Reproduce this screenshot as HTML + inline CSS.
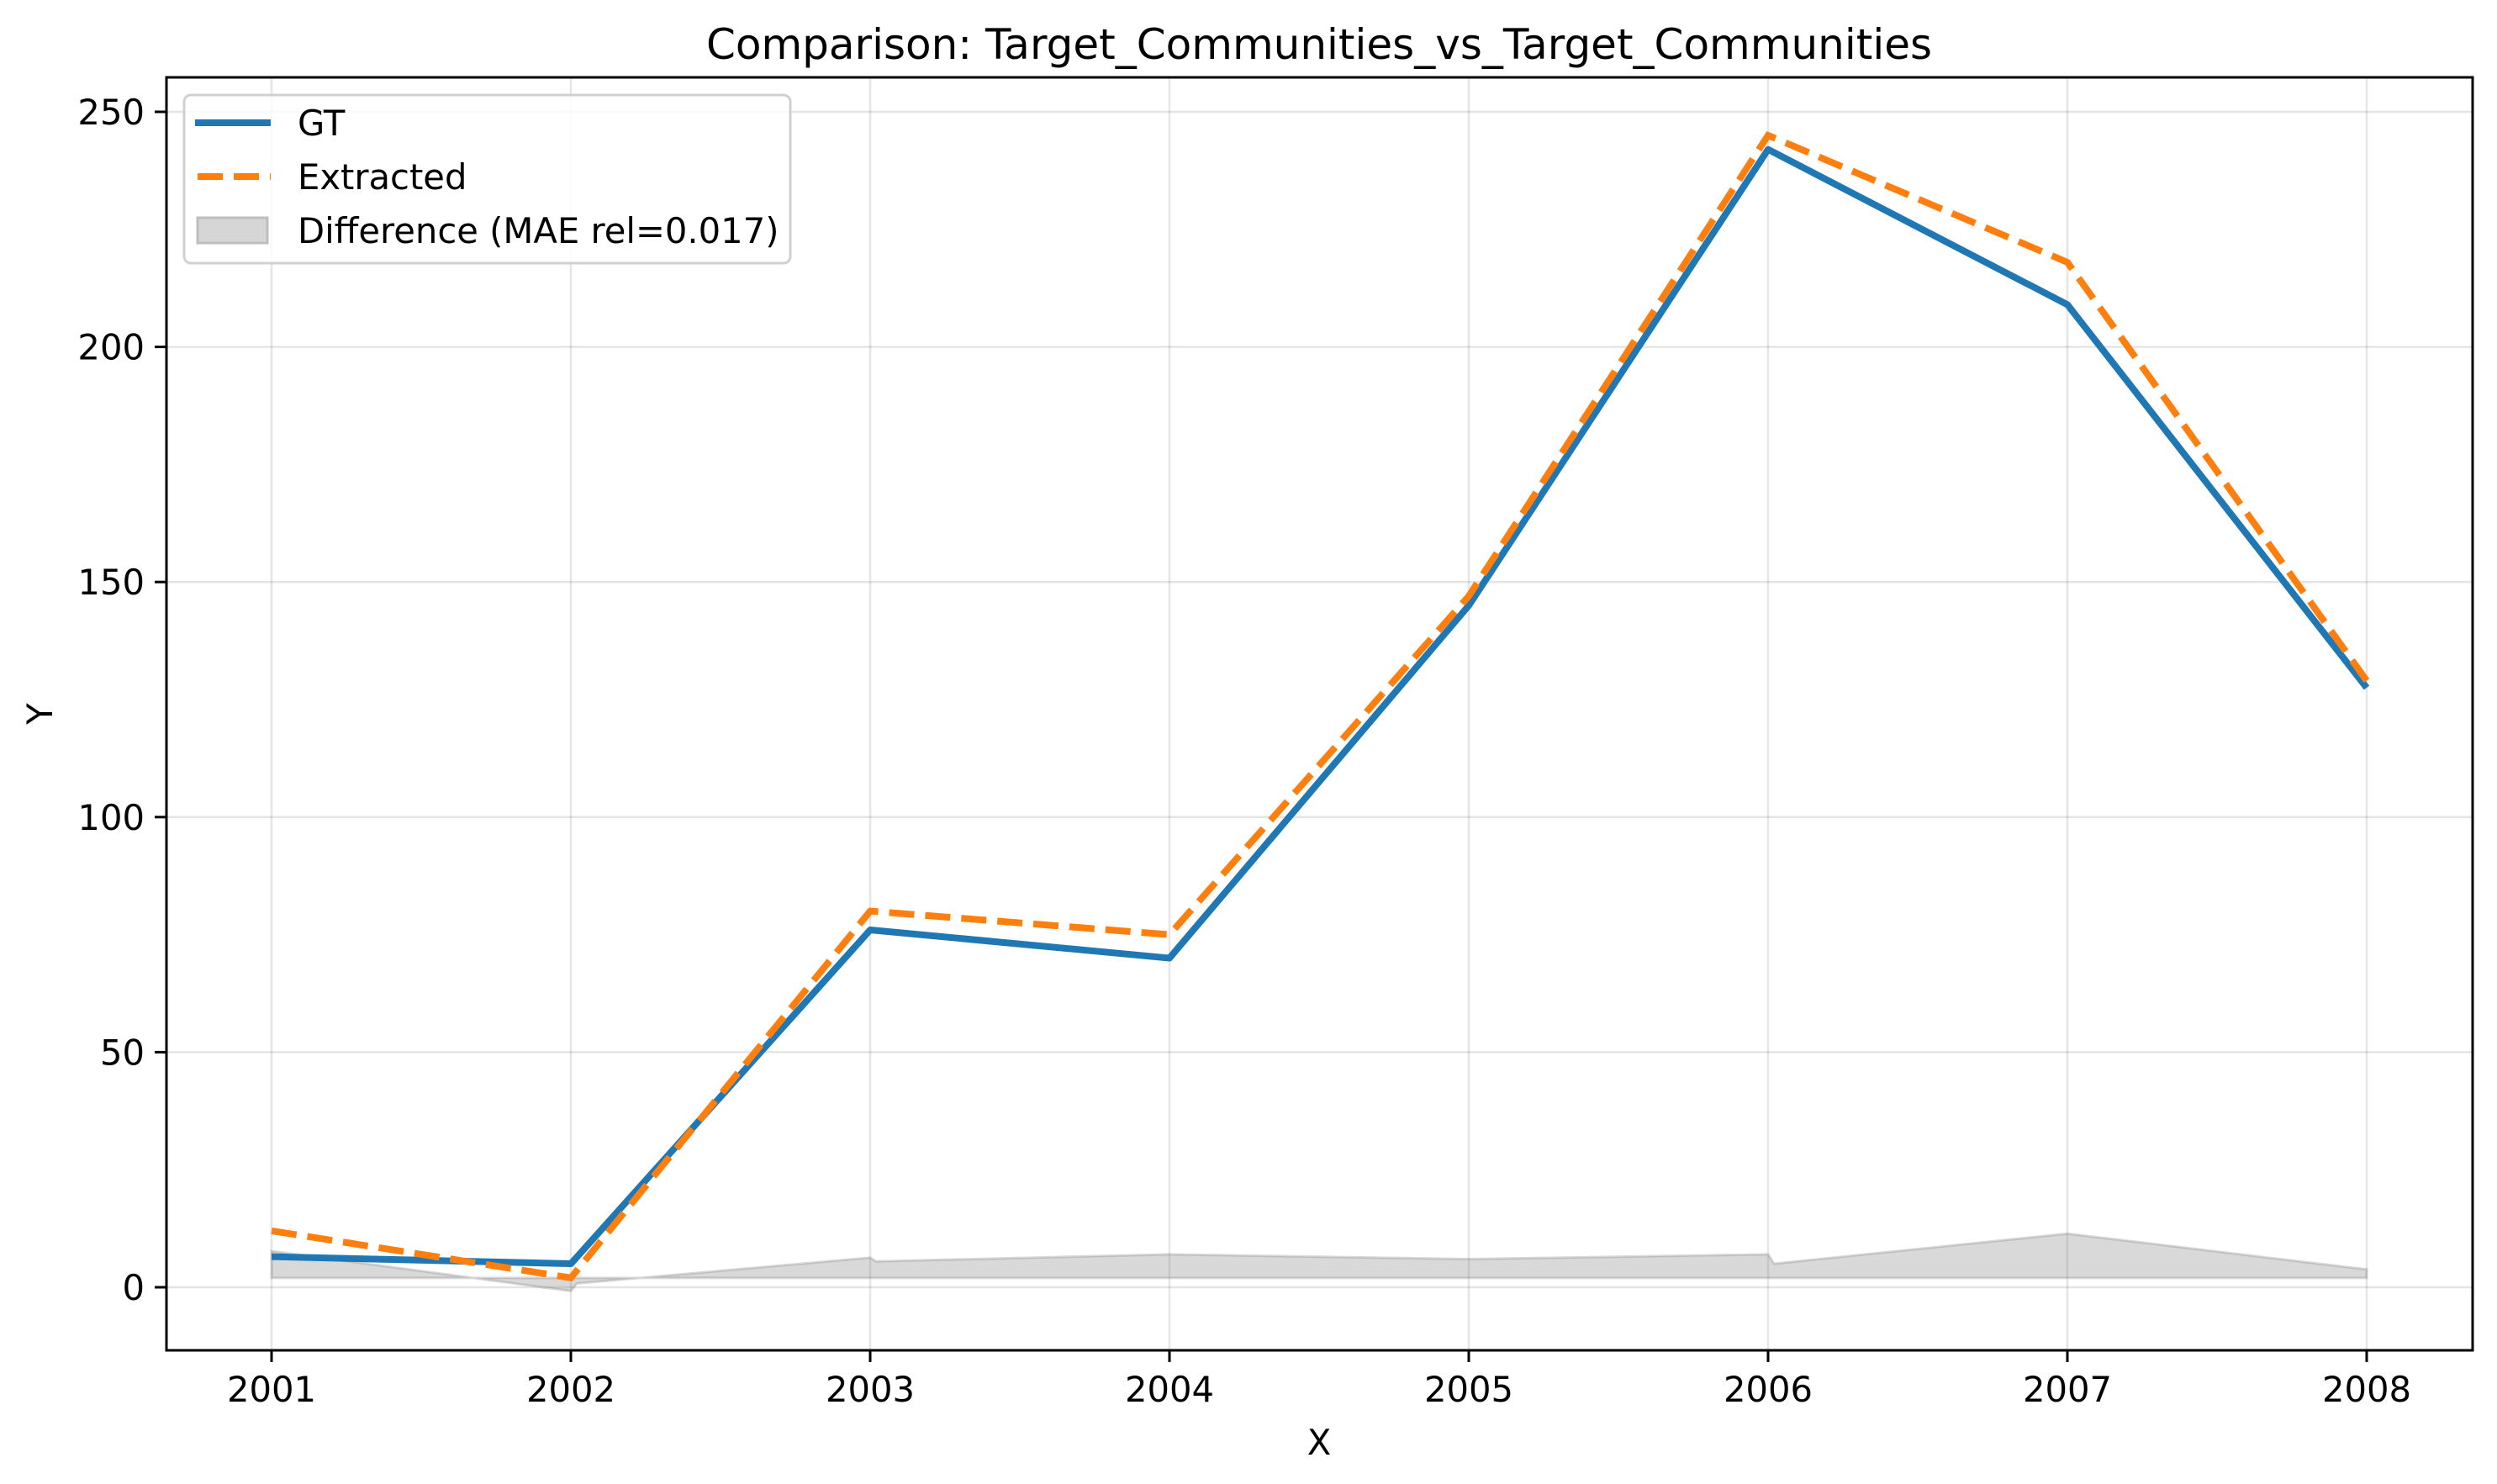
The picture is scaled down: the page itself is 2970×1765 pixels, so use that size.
<!DOCTYPE html>
<html><head><meta charset="utf-8"><style>
html,body{margin:0;padding:0;background:#fff}
svg{display:block;font-family:"DejaVu Sans","Liberation Sans",sans-serif}
</style></head><body>
<svg id="chart" width="2970" height="1765" viewBox="0 0 2970 1765" xmlns="http://www.w3.org/2000/svg">
<rect width="2970" height="1765" fill="#fff"/>
<text x="1569" y="70" font-size="50" text-anchor="middle">Comparison: Target_Communities_vs_Target_Communities</text>
<g id="grid"></g>
<g id="diff"></g>
<g id="lines"></g>
<rect x="198" y="92" width="2743" height="1514" fill="none" stroke="#000" stroke-width="3"/>
<g id="xticks"></g>
<g id="yticks"></g>
<text x="1569" y="1730" font-size="41.7" text-anchor="middle">X</text>
<text x="0" y="0" font-size="41.7" text-anchor="middle" transform="translate(62,849) rotate(-90)">Y</text>
<g>
<rect x="219" y="113" width="721" height="200" rx="8" fill="#fff" fill-opacity="0.8" stroke="#d0d0d0" stroke-width="3"/>
<line x1="232" y1="146" x2="322" y2="146" stroke="#1f77b4" stroke-width="8"/>
<text x="354" y="161" font-size="41.7">GT</text>
<line x1="235" y1="210" x2="322" y2="210" stroke="#ff7f0e" stroke-width="8" stroke-dasharray="30 13"/>
<text x="354" y="225" font-size="41.7">Extracted</text>
<rect x="235" y="259" width="83" height="30" fill="#d6d6d6" stroke="#bdbdbd" stroke-width="3"/>
<text x="354" y="289" font-size="41.7">Difference (MAE rel=0.017)</text>
</g>
</svg>
<script>
const years = [2001,2002,2003,2004,2005,2006,2007,2008];
const gtValues = [6.5,5,76,70,145,242,209,127.5];
const extractedValues = [12,2,80,75,147,245,218,129];
const diffX = [2001,2002,2002.02,2003,2003.02,2004,2005,2006,2006.02,2007,2008];
const diffTop = [7.7,-0.8,0.8,6.3,5.5,7,6,7,5,11.4,3.8];
const diffBase = 2;
const yTicks = [0,50,100,150,200,250];
const NS = "http://www.w3.org/2000/svg";
function xs(v){return 323 + (v-2001)*356;}
function ys(v){return 1531 - v*5.592;}
function mk(tag, attrs, parent){const e=document.createElementNS(NS,tag);for(const k in attrs)e.setAttribute(k,attrs[k]);parent.appendChild(e);return e;}
const grid=document.getElementById('grid'), xt=document.getElementById('xticks'), yt=document.getElementById('yticks');
years.forEach(y=>{
  const g=mk('line',{x1:xs(y),x2:xs(y),y1:92,y2:1606,stroke:'#000','stroke-opacity':0.1,'stroke-width':2.5},grid);
  
  
  const t=mk('line',{x1:xs(y),x2:xs(y),y1:1606,y2:1620,stroke:'#000','stroke-width':3},xt);
  
  
  const l=mk('text',{x:xs(y),y:1667,'font-size':41.7,'text-anchor':'middle'},xt);
  l.textContent=y;
  
  
});
yTicks.forEach(v=>{
  const g=mk('line',{x1:198,x2:2941,y1:ys(v),y2:ys(v),stroke:'#000','stroke-opacity':0.1,'stroke-width':2.5},grid);
  
  
  const t=mk('line',{x1:184,x2:198,y1:ys(v),y2:ys(v),stroke:'#000','stroke-width':3},yt);
  
  
  const l=mk('text',{x:172,y:ys(v)+15,'font-size':41.7,'text-anchor':'end'},yt);
  l.textContent=v;
  
  
});
let pts=diffX.map((x,i)=>xs(x)+','+ys(diffTop[i]));
pts.push(xs(diffX[diffX.length-1])+','+ys(diffBase));
pts.push(xs(diffX[0])+','+ys(diffBase));
const area=mk('polygon',{points:pts.join(' '),fill:'#808080','fill-opacity':0.3,stroke:'#808080','stroke-opacity':0.3,'stroke-width':3},document.getElementById('diff'));


const lines=document.getElementById('lines');
const gt=mk('polyline',{points:years.map((y,i)=>xs(y)+','+ys(gtValues[i])).join(' '),fill:'none',stroke:'#1f77b4','stroke-width':8,'stroke-linejoin':'round'},lines);


const ex=mk('polyline',{points:years.map((y,i)=>xs(y)+','+ys(extractedValues[i])).join(' '),fill:'none',stroke:'#ff7f0e','stroke-width':8,'stroke-dasharray':'30 13'},lines);


</script>
</body></html>
